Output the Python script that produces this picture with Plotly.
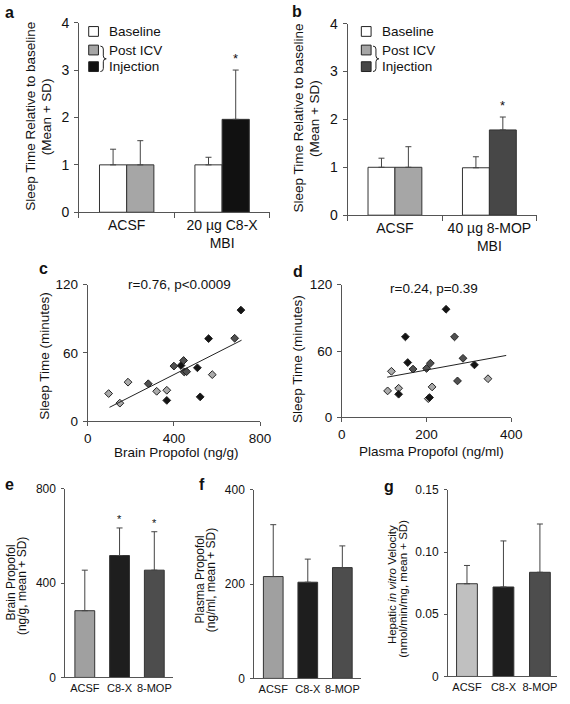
import plotly.graph_objects as go

# ---------------- data ----------------
ab_categories = ["ACSF", "Drug"]
a_tick_labels = ["ACSF", "20 µg C8-X<br>MBI"]
a_baseline = [1.0, 1.0]
a_baseline_sd = [0.33, 0.16]
a_treated = [1.0, 1.96]
a_treated_sd = [0.51, 1.04]

b_tick_labels = ["ACSF", "40 µg 8-MOP<br>MBI"]
b_baseline = [1.0, 0.99]
b_baseline_sd = [0.19, 0.23]
b_treated = [1.0, 1.78]
b_treated_sd = [0.43, 0.27]

c_acsf_x = [97, 149, 187, 320, 367, 578]
c_acsf_y = [24.4, 16, 34.4, 26.4, 27.3, 41]
c_c8x_x = [367, 433, 509, 522, 561, 711]
c_c8x_y = [18.4, 49, 47, 21.5, 72.6, 97.6]
c_8mop_x = [281, 400, 445, 448, 459, 682]
c_8mop_y = [33, 48.5, 53.4, 43.3, 43.6, 72.9]
c_fit_x = [101, 714]
c_fit_y = [12.3, 71.2]

d_acsf_x = [108, 117, 134, 204, 213, 345]
d_acsf_y = [24, 41.7, 26.4, 17, 27.6, 35]
d_c8x_x = [134, 150, 155.5, 207, 246, 313]
d_c8x_y = [21, 72.8, 49.6, 18, 97.7, 47.5]
d_8mop_x = [168, 200, 209, 266, 273, 286]
d_8mop_y = [43.7, 44.3, 49, 72.8, 33, 53.4]
d_fit_x = [107, 388]
d_fit_y = [36.4, 56]

efg_categories = ["ACSF", "C8-X", "8-MOP"]
e_mean = [283, 517, 455]
e_sd = [172, 117, 163]
f_mean = [216, 204, 235]
f_sd = [110, 49, 46]
g_mean = [0.0745, 0.0719, 0.0837]
g_sd = [0.0147, 0.037, 0.0388]

W, H = 570, 704
FONT = "Liberation Sans, Arial, sans-serif"
AXC = "#555555"
EDGE = "#333333"
BARGAP = 0.43


def px(x):
    return x / W


def py(y):
    return 1 - y / H


fig = go.Figure()


def err(sd, w=3):
    return dict(type="data", array=sd, arrayminus=[0] * len(sd), symmetric=False,
                color="#444444", thickness=1, width=w)


# ---- panel a ----
fig.add_trace(go.Bar(x=ab_categories, y=a_baseline, error_y=err(a_baseline_sd),
                     marker=dict(color="white", line=dict(color=EDGE, width=1)),
                     xaxis="x", yaxis="y", name="Baseline"))
fig.add_trace(go.Bar(x=ab_categories, y=a_treated, error_y=err(a_treated_sd),
                     marker=dict(color=["#a6a6a6", "#111111"], line=dict(color=EDGE, width=1)),
                     xaxis="x", yaxis="y", name="Post ICV"))
# ---- panel b ----
fig.add_trace(go.Bar(x=ab_categories, y=b_baseline, error_y=err(b_baseline_sd),
                     marker=dict(color="white", line=dict(color=EDGE, width=1)),
                     xaxis="x2", yaxis="y2", name="Baseline"))
fig.add_trace(go.Bar(x=ab_categories, y=b_treated, error_y=err(b_treated_sd),
                     marker=dict(color=["#a6a6a6", "#474747"], line=dict(color=EDGE, width=1)),
                     xaxis="x2", yaxis="y2", name="Post ICV"))

# ---- scatter c, d ----
grp_colors = ["#aaaaaa", "#141414", "#505050"]
for (xs, ys), col in zip([(c_acsf_x, c_acsf_y), (c_c8x_x, c_c8x_y), (c_8mop_x, c_8mop_y)], grp_colors):
    fig.add_trace(go.Scatter(x=xs, y=ys, mode="markers", xaxis="x3", yaxis="y3",
                             marker=dict(symbol="diamond", size=6, color=col,
                                         line=dict(color="#222222", width=1))))
fig.add_trace(go.Scatter(x=c_fit_x, y=c_fit_y, mode="lines", xaxis="x3", yaxis="y3",
                         line=dict(color="#222222", width=1)))
for (xs, ys), col in zip([(d_acsf_x, d_acsf_y), (d_c8x_x, d_c8x_y), (d_8mop_x, d_8mop_y)], grp_colors):
    fig.add_trace(go.Scatter(x=xs, y=ys, mode="markers", xaxis="x4", yaxis="y4",
                             marker=dict(symbol="diamond", size=6, color=col,
                                         line=dict(color="#222222", width=1))))
fig.add_trace(go.Scatter(x=d_fit_x, y=d_fit_y, mode="lines", xaxis="x4", yaxis="y4",
                         line=dict(color="#222222", width=1)))

# ---- e, f, g ----
fig.add_trace(go.Bar(x=efg_categories, y=e_mean, error_y=err(e_sd),
                     marker=dict(color=["#a0a0a0", "#1e1e1e", "#4d4d4d"], line=dict(color=EDGE, width=1)),
                     xaxis="x5", yaxis="y5"))
fig.add_trace(go.Bar(x=efg_categories, y=f_mean, error_y=err(f_sd),
                     marker=dict(color=["#a0a0a0", "#1e1e1e", "#4d4d4d"], line=dict(color=EDGE, width=1)),
                     xaxis="x6", yaxis="y6"))
fig.add_trace(go.Bar(x=efg_categories, y=g_mean, error_y=err(g_sd),
                     marker=dict(color=["#c0c0c0", "#1e1e1e", "#4d4d4d"], line=dict(color=EDGE, width=1)),
                     xaxis="x7", yaxis="y7"))


def xax(dom, **kw):
    d = dict(domain=[px(dom[0]), px(dom[1])], showline=True, linecolor=AXC, linewidth=1,
             showgrid=False, zeroline=False, ticks="outside", ticklen=4, tickcolor=AXC,
             tickfont=dict(family=FONT, size=13.5, color="#111"), anchor=kw.pop("anchor"))
    d.update(kw)
    return d


def yax(dom, **kw):
    d = dict(domain=[py(dom[1]), py(dom[0])], showline=True, linecolor=AXC, linewidth=1,
             showgrid=False, zeroline=False, ticks="outside", ticklen=4, tickcolor=AXC,
             ticklabelstandoff=2,
             tickfont=dict(family=FONT, size=13.5, color="#111"), anchor=kw.pop("anchor"))
    d.update(kw)
    return d


small = dict(family=FONT, size=11, color="#111")
big = dict(family=FONT, size=14, color="#111")
mid = dict(family=FONT, size=12, color="#111")

fig.update_layout(
    width=W, height=H, margin=dict(l=0, r=0, t=0, b=0),
    paper_bgcolor="white", plot_bgcolor="white", showlegend=False,
    barmode="group", bargap=BARGAP, bargroupgap=0,
    font=dict(family=FONT, color="#111"),
    xaxis=xax((77, 273), anchor="y", type="category", range=[-0.5, 1.5], tickson="boundaries",
              tickvals=ab_categories, ticktext=a_tick_labels, ticklen=5, tickfont=big),
    yaxis=yax((15, 209), anchor="x", range=[0, 4], tickvals=[0, 1, 2, 3, 4], tickfont=big),
    xaxis2=xax((353, 547), anchor="y2", type="category", range=[-0.5, 1.5], tickson="boundaries",
               tickvals=ab_categories, ticktext=b_tick_labels, ticklen=5, tickfont=big),
    yaxis2=yax((16, 212), anchor="x2", range=[0, 4], tickvals=[0, 1, 2, 3, 4], tickfont=big),
    xaxis3=xax((86, 263), anchor="y3", range=[0, 800], tickvals=[0, 400, 800]),
    yaxis3=yax((283, 423), anchor="x3", range=[0, 120], tickvals=[0, 60, 120]),
    xaxis4=xax((347, 521), anchor="y4", range=[0, 400], tickvals=[0, 200, 400]),
    yaxis4=yax((283, 419), anchor="x4", range=[0, 120], tickvals=[0, 60, 120]),
    xaxis5=xax((63, 174), anchor="y5", type="category", range=[-0.56, 2.55], ticks="", tickangle=0, tickfont=small),
    yaxis5=yax((492, 685), anchor="x5", range=[0, 800], tickvals=[0, 400, 800], ticklen=3, ticklabelstandoff=3, tickfont=mid),
    xaxis6=xax((257, 367), anchor="y6", type="category", range=[-0.55, 2.55], ticks="", tickangle=0, tickfont=small),
    yaxis6=yax((493, 686), anchor="x6", range=[0, 400], tickvals=[0, 200, 400], ticklen=3, ticklabelstandoff=3, tickfont=mid),
    xaxis7=xax((456, 568), anchor="y7", type="category", range=[-0.52, 2.47], ticks="", tickangle=0, tickfont=small),
    yaxis7=yax((493, 684), anchor="x7", range=[0, 0.15], tickvals=[0, 0.05, 0.10, 0.15], ticklen=3, ticklabelstandoff=3,
               ticktext=["0", "0.05", "0.10", "0.15"], tickfont=mid),
)

ann = []


def txt(x, y, s, size=13.5, angle=0, bold=False, xanchor="center", yanchor="middle", fam=FONT):
    ann.append(dict(x=px(x), y=py(y), xref="paper", yref="paper", text=("<b>%s</b>" % s) if bold else s,
                    showarrow=False, textangle=angle, xanchor=xanchor, yanchor=yanchor,
                    font=dict(family=fam, size=size, color="#111")))


# panel letters
for lab, x, y in [("a", 6, 5), ("b", 301, 4), ("c", 41, 267), ("d", 302, 270),
                  ("e", 6, 488), ("f", 203, 488), ("g", 395, 490)]:
    txt(x, y, lab, size=16, bold=True)

# y titles
txt(27, 111, "Sleep Time Relative to baseline", size=13.5, angle=-90)
txt(44, 111, "(Mean + SD)", size=13.5, angle=-90)
txt(302, 113, "Sleep Time Relative to baseline", size=13.5, angle=-90)
txt(319, 113, "(Mean + SD)", size=13.5, angle=-90)
txt(42, 356, "Sleep Time (minutes)", size=13.5, angle=-90)
txt(302, 359, "Sleep Time (minutes)", size=13.5, angle=-90)
txt(7, 588, "Brain Propofol", size=12, angle=-90)
txt(18, 592, "(ng/g, mean + SD)", size=12, angle=-90)
txt(201, 585, "Plasma Propofol", size=12, angle=-90)
txt(212, 585, "(ng/ml, mean + SD)", size=12, angle=-90)
txt(398, 590, "Hepatic <i>in vitro</i> Velocity", size=11.5, angle=-90)
txt(409, 594, "(nmol/min/mg, mean + SD)", size=11.5, angle=-90)

# x titles c, d
txt(177, 455, "Brain Propofol (ng/g)", size=13.5)
txt(439, 454, "Plasma Propofol (ng/ml)", size=13.5)
# correlation labels
txt(180, 283, "r=0.76, p&lt;0.0009", size=13.5)
txt(442, 287, "r=0.24, p=0.39", size=13.5)

# legends a & b
shapes = []
for (sqx, tx, brx, inj_col) in [(92, 106, 99, "#111111"), (372, 386, 379, "#474747")]:
    for yy, col, lab in [(24, "white", "Baseline"), (43, "#a6a6a6", "Post ICV"), (60, inj_col, "Injection")]:
        shapes.append(dict(type="rect", xref="paper", yref="paper", x0=px(sqx - 5), x1=px(sqx + 5),
                           y0=py(yy + 5), y1=py(yy - 5), fillcolor=col, line=dict(color="#222", width=1)))
        txt(tx, yy, lab, size=13.5, xanchor="left")
    pts = [(brx, 39), (brx + 3, 39), (brx + 3, 42), (brx + 3, 49), (brx + 3, 52), (brx + 6, 52),
           (brx + 3, 52), (brx + 3, 55), (brx + 3, 62), (brx + 3, 65), (brx, 65)]
    P = lambda p: "%f,%f" % (px(p[0]), py(p[1]))
    path = ("M %s Q %s %s L %s Q %s %s Q %s %s L %s Q %s %s" %
            tuple(P(p) for p in pts))
    shapes.append(dict(type="path", xref="paper", yref="paper", path=path,
                       line=dict(color="#222", width=1)))

# significance stars
off = (1 - BARGAP) / 4
for xa, ya, xv, yv, sz, sh in [("x", "y", 1 + off, a_treated[1] + a_treated_sd[1], 13, 2),
                               ("x2", "y2", 1 + off, b_treated[1] + b_treated_sd[1], 13, 2),
                               ("x5", "y5", 1, e_mean[1] + e_sd[1], 11, 1),
                               ("x5", "y5", 2, e_mean[2] + e_sd[2], 11, 1)]:
    ann.append(dict(x=xv, y=yv, xref=xa, yref=ya, text="*", showarrow=False, yanchor="bottom",
                    yshift=sh, font=dict(family=FONT, size=sz, color="#111")))

fig.update_layout(annotations=ann, shapes=shapes)
fig.write_html("out.html", config={"displayModeBar": False},
               post_script="document.body.style.margin='0px';")
